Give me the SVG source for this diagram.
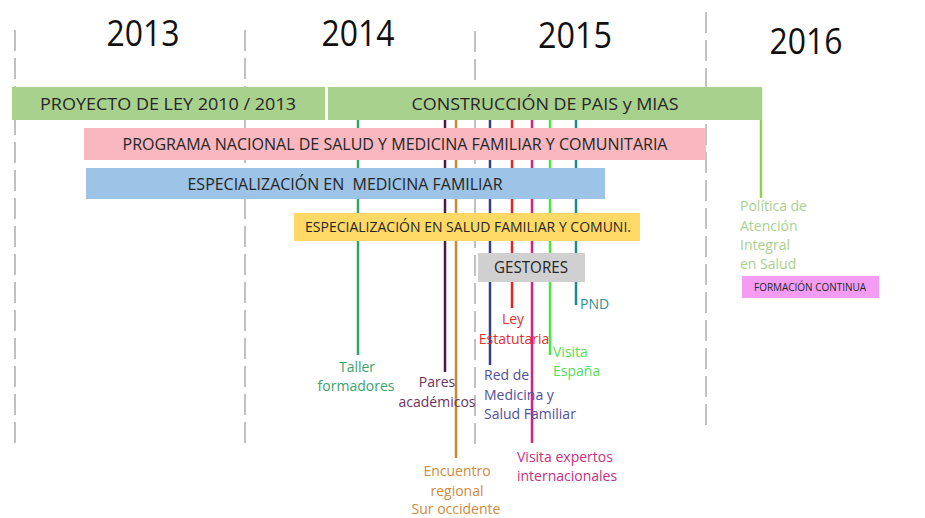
<svg xmlns="http://www.w3.org/2000/svg" width="925" height="518" viewBox="0 0 925 518">
<style>
.year{font-family:"Open Sans","Liberation Sans",sans-serif;font-size:36px;fill:#111;text-anchor:middle}
.bar{font-family:"Open Sans","Liberation Sans",sans-serif;font-size:16.5px;fill:#262626;text-anchor:middle;white-space:pre}
.lbl{font-family:"Open Sans","Liberation Sans",sans-serif;font-size:14px}
.mid{text-anchor:middle}
.grid{stroke:#c0c0c0;stroke-width:2;stroke-dasharray:21 7;fill:none}
.ev{stroke-width:2.5;fill:none}
</style>
<rect width="925" height="518" fill="#fff"/>
<g id="grid">
<line class="grid" x1="15" y1="30" x2="15" y2="446"/>
<line class="grid" x1="245" y1="30" x2="245" y2="446"/>
<line class="grid" x1="475" y1="31" x2="475" y2="446"/>
<line class="grid" x1="706" y1="12" x2="706" y2="426"/>
</g>
<g id="years">
<text class="year" x="143" y="46" textLength="73" lengthAdjust="spacingAndGlyphs">2013</text>
<text class="year" x="358" y="46" textLength="73" lengthAdjust="spacingAndGlyphs">2014</text>
<text class="year" x="575" y="48" textLength="74" lengthAdjust="spacingAndGlyphs">2015</text>
<text class="year" x="806" y="54" textLength="73" lengthAdjust="spacingAndGlyphs">2016</text>
</g>
<g id="connectors">
<line class="ev" x1="358" y1="120" x2="358" y2="355" stroke="#2aa764"/>
<line class="ev" x1="445" y1="120" x2="445" y2="372" stroke="#4d1a40"/>
<line class="ev" x1="456" y1="120" x2="456" y2="458" stroke="#c98a32"/>
<line class="ev" x1="490" y1="120" x2="490" y2="365" stroke="#3b3b8f"/>
<line class="ev" x1="512" y1="120" x2="512" y2="308" stroke="#e02424"/>
<line class="ev" x1="532" y1="120" x2="532" y2="443" stroke="#d2237f"/>
<line class="ev" x1="550" y1="120" x2="550" y2="355" stroke="#44e844"/>
<line class="ev" x1="576" y1="120" x2="576" y2="305" stroke="#1f8a8a"/>
<line class="ev" x1="761" y1="88" x2="761" y2="198" stroke="#92d050"/>
</g>
<g id="proyecto">
<rect x="12" y="87" width="313" height="33" fill="#a9d18e"/>
<text class="bar" x="168" y="110" textLength="256" lengthAdjust="spacingAndGlyphs">PROYECTO DE LEY 2010 / 2013</text>
</g>
<g id="construccion">
<rect x="328" y="87" width="434" height="33" fill="#a9d18e"/>
<text class="bar" x="545" y="110" textLength="267" lengthAdjust="spacingAndGlyphs">CONSTRUCCIÓN DE PAIS y MIAS</text>
</g>
<g id="programa">
<rect x="84" y="128" width="622" height="32" fill="#f9b7bf"/>
<text class="bar" x="395" y="150" textLength="545" lengthAdjust="spacingAndGlyphs">PROGRAMA NACIONAL DE SALUD Y MEDICINA FAMILIAR Y COMUNITARIA</text>
</g>
<g id="esp-medicina">
<rect x="86" y="168" width="519" height="31" fill="#9dc3e6"/>
<text class="bar" x="345" y="190" textLength="315" lengthAdjust="spacingAndGlyphs">ESPECIALIZACIÓN EN  MEDICINA FAMILIAR</text>
</g>
<g id="esp-salud">
<rect x="294" y="213" width="346" height="28" fill="#ffd966"/>
<text class="bar" x="468" y="232" style="font-size:14.5px" textLength="326" lengthAdjust="spacingAndGlyphs">ESPECIALIZACIÓN EN SALUD FAMILIAR Y COMUNI.</text>
</g>
<g id="gestores">
<rect x="478" y="253" width="107" height="29" fill="#d0d0d0"/>
<text class="bar" x="531" y="273" textLength="74" lengthAdjust="spacingAndGlyphs">GESTORES</text>
</g>
<g id="formacion">
<rect x="742" y="276" width="137" height="22" fill="#f49cf3"/>
<text class="bar" x="810" y="291" style="font-size:11px" textLength="112" lengthAdjust="spacingAndGlyphs">FORMACIÓN CONTINUA</text>
</g>
<g id="politica">
<text class="lbl" fill="#a9d18e" x="740" y="211">Política de</text>
<text class="lbl" fill="#a9d18e" x="740" y="231">Atención</text>
<text class="lbl" fill="#a9d18e" x="740" y="250">Integral</text>
<text class="lbl" fill="#a9d18e" x="740" y="269">en Salud</text>
</g>
<g id="taller">
<text class="lbl mid" fill="#3aa56a" x="357" y="372">Taller</text>
<text class="lbl mid" fill="#3aa56a" x="356" y="391">formadores</text>
</g>
<g id="pares">
<text class="lbl mid" fill="#6e3360" x="437" y="387">Pares</text>
<text class="lbl mid" fill="#6e3360" x="437" y="407">académicos</text>
</g>
<g id="encuentro">
<text class="lbl mid" fill="#d08a40" x="457" y="476">Encuentro</text>
<text class="lbl mid" fill="#d08a40" x="457" y="496">regional</text>
<text class="lbl mid" fill="#d08a40" x="456" y="514">Sur occidente</text>
</g>
<g id="red">
<text class="lbl" fill="#4f4f9a" x="484" y="380">Red de</text>
<text class="lbl" fill="#4f4f9a" x="484" y="400">Medicina y</text>
<text class="lbl" fill="#4f4f9a" x="484" y="419">Salud Familiar</text>
</g>
<g id="ley">
<text class="lbl mid" fill="#e03030" x="513" y="324">Ley</text>
<text class="lbl mid" fill="#e03030" x="514" y="344">Estatutaria</text>
</g>
<g id="visita-expertos">
<text class="lbl" fill="#c8307f" x="517" y="462">Visita expertos</text>
<text class="lbl" fill="#c8307f" x="517" y="481">internacionales</text>
</g>
<g id="visita-espana">
<text class="lbl" fill="#55dd55" x="553" y="357">Visita</text>
<text class="lbl" fill="#55dd55" x="553" y="376">España</text>
</g>
<g id="pnd">
<text class="lbl" fill="#2a9090" x="580" y="309">PND</text>
</g>
</svg>
